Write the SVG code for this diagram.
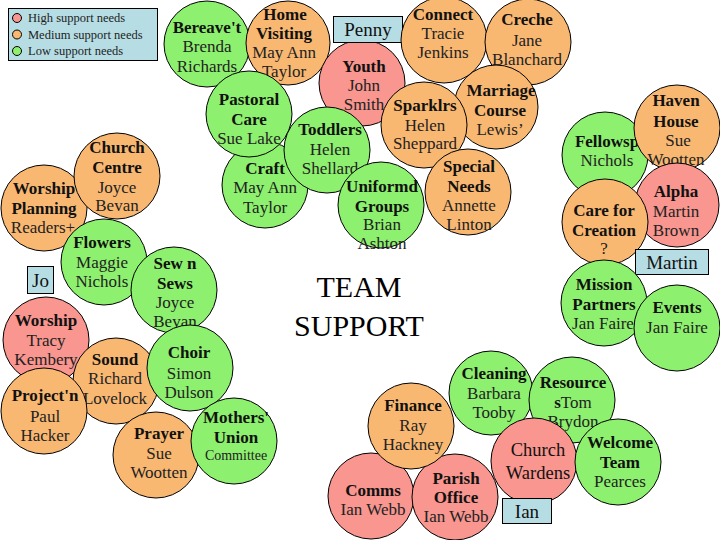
<svg xmlns="http://www.w3.org/2000/svg" width="720" height="540" viewBox="0 0 720 540">
<style>
text{font-family:"Liberation Serif","DejaVu Serif",serif;text-anchor:middle}
.h{font-size:17px;font-weight:bold;fill:#111}
.t{font-size:17px;fill:#222}
.s{font-size:14px;fill:#222}
.b{font-size:19px;fill:#111}
.lg{font-size:12.5px;fill:#222;text-anchor:start}
.g{fill:#8DF06E;stroke:#000;stroke-width:1}
.o{fill:#F9B872;stroke:#000;stroke-width:1}
.p{fill:#F8968F;stroke:#000;stroke-width:1}
.box{fill:#B7DDE4;stroke:#000;stroke-width:1}
</style>
<rect width="720" height="540" fill="#fff"/>
<g id="legend">
<rect class="box" x="8.5" y="8.5" width="149" height="52"/>
<circle class="p" cx="17" cy="18" r="4.5"/>
<circle class="o" cx="17" cy="34.5" r="4.5"/>
<circle class="g" cx="17" cy="51" r="4.5"/>
<text class="lg" x="28" y="22">High support needs</text>
<text class="lg" x="28" y="39">Medium support needs</text>
<text class="lg" x="28" y="55">Low support needs</text>
</g>
<g id="connectors"></g>
<g id="bereavement"><circle class="g" cx="207" cy="44" r="43"/><text class="h" x="207" y="33">Bereave't</text><text class="t" x="207" y="52">Brenda</text><text class="t" x="207" y="72">Richards</text></g>
<g id="home-visiting"><circle class="o" cx="288" cy="43" r="42"/><text class="h" x="285" y="20">Home</text><text class="h" x="284" y="39">Visiting</text><text class="t" x="284" y="58">May Ann</text><text class="t" x="284" y="77">Taylor</text></g>
<g id="craft"><circle class="g" cx="265" cy="185" r="43"/><text class="h" x="265" y="174">Craft</text><text class="t" x="265" y="193">May Ann</text><text class="t" x="265" y="213">Taylor</text></g>
<g id="pastoral"><circle class="g" cx="249" cy="114" r="43"/><text class="h" x="249" y="105">Pastoral</text><text class="h" x="249" y="125">Care</text><text class="t" x="249" y="144">Sue Lake</text></g>
<g id="youth"><circle class="p" cx="362" cy="83" r="43"/><text class="h" x="364" y="72">Youth</text><text class="t" x="364" y="91">John</text><text class="t" x="364" y="110">Smith</text></g>
<g id="toddlers"><circle class="g" cx="327" cy="150" r="43"/><text class="h" x="330" y="135">Toddlers</text><text class="t" x="330" y="155">Helen</text><text class="t" x="330" y="174">Shellard</text></g>
<g id="uniformed"><circle class="g" cx="381" cy="205" r="43"/><text class="h" x="382" y="192">Uniformd</text><text class="h" x="382" y="212">Groups</text><text class="t" x="382" y="230">Brian</text><text class="t" x="382" y="249">Ashton</text></g>
<g id="penny"><rect class="box" x="333.5" y="16.5" width="69" height="26"/><text class="b" x="368" y="36">Penny</text></g>
<g id="connect"><circle class="o" cx="444" cy="40" r="43"/><text class="h" x="443" y="20">Connect</text><text class="t" x="443" y="39">Tracie</text><text class="t" x="443" y="58">Jenkins</text></g>
<g id="creche"><circle class="o" cx="528" cy="42" r="43"/><text class="h" x="527" y="25">Creche</text><text class="t" x="527" y="46">Jane</text><text class="t" x="527" y="65">Blanchard</text></g>
<g id="marriage"><circle class="o" cx="496" cy="107" r="42"/><text class="h" x="501" y="96">Marriage</text><text class="h" x="500" y="116">Course</text><text class="t" x="500" y="135">Lewis’</text></g>
<g id="sparklers"><circle class="o" cx="424" cy="125" r="43"/><text class="h" x="425" y="111">Sparklrs</text><text class="t" x="425" y="131">Helen</text><text class="t" x="425" y="149">Sheppard</text></g>
<g id="special-needs"><circle class="o" cx="468" cy="192" r="43"/><text class="h" x="469" y="172">Special</text><text class="h" x="469" y="192">Needs</text><text class="t" x="469" y="211">Annette</text><text class="t" x="469" y="230">Linton</text></g>
<g id="worship-planning"><circle class="o" cx="44" cy="208" r="43"/><text class="h" x="44" y="194">Worship</text><text class="h" x="44" y="214">Planning</text><text class="t" x="43" y="233">Readers+</text></g>
<g id="church-centre"><circle class="o" cx="117" cy="176" r="43"/><text class="h" x="117" y="153">Church</text><text class="h" x="117" y="173">Centre</text><text class="t" x="117" y="193">Joyce</text><text class="t" x="117" y="211">Bevan</text></g>
<g id="flowers"><circle class="g" cx="104" cy="262" r="43"/><text class="h" x="102" y="248">Flowers</text><text class="t" x="102" y="268">Maggie</text><text class="t" x="102" y="287">Nichols</text></g>
<g id="jo"><rect class="box" x="27.5" y="266.5" width="26" height="27"/><text class="b" x="40.5" y="287">Jo</text></g>
<g id="sew-n-sews"><circle class="g" cx="174" cy="290" r="43"/><text class="h" x="175" y="269">Sew n</text><text class="h" x="175" y="289">Sews</text><text class="t" x="175" y="308">Joyce</text><text class="t" x="175" y="327">Bevan</text></g>
<g id="worship"><circle class="p" cx="46" cy="340" r="43"/><text class="h" x="46" y="326">Worship</text><text class="t" x="46" y="346">Tracy</text><text class="t" x="46" y="365">Kembery</text></g>
<g id="sound"><circle class="o" cx="116" cy="381" r="43"/><text class="h" x="115" y="365">Sound</text><text class="t" x="115" y="384">Richard</text><text class="t" x="115" y="404">Lovelock</text></g>
<g id="choir"><circle class="g" cx="190" cy="368" r="43"/><text class="h" x="189" y="358">Choir</text><text class="t" x="189" y="379">Simon</text><text class="t" x="189" y="398">Dulson</text></g>
<g id="projection"><circle class="o" cx="44" cy="411" r="43"/><text class="h" x="45" y="401">Project'n</text><text class="t" x="45" y="422">Paul</text><text class="t" x="45" y="441">Hacker</text></g>
<g id="prayer"><circle class="o" cx="156" cy="455" r="43"/><text class="h" x="159" y="439">Prayer</text><text class="t" x="159" y="459">Sue</text><text class="t" x="159" y="478">Wootten</text></g>
<g id="mothers-union"><circle class="g" cx="234" cy="441" r="43"/><text class="h" x="236" y="423">Mothers'</text><text class="h" x="236" y="443">Union</text><text class="s" x="236" y="460">Committee</text></g>
<g id="title"><text x="359" y="297" style="font-size:30px;fill:#000">TEAM</text><text x="359" y="336" style="font-size:30px;fill:#000">SUPPORT</text></g>
<g id="fellowship"><circle class="g" cx="605" cy="155" r="43"/><text class="h" x="607" y="147">Fellowsp</text><text class="t" x="607" y="166">Nichols</text></g>
<g id="haven-house"><circle class="o" cx="677" cy="128" r="43"/><text class="h" x="676" y="106">Haven</text><text class="h" x="676" y="127">House</text><text class="t" x="678" y="146">Sue</text><text class="t" x="676" y="165">Wootten</text></g>
<g id="alpha"><circle class="p" cx="677" cy="205" r="42"/><text class="h" x="676" y="197">Alpha</text><text class="t" x="676" y="217">Martin</text><text class="t" x="676" y="236">Brown</text></g>
<g id="care-for-creation"><circle class="o" cx="605" cy="222" r="43"/><text class="h" x="604" y="216">Care for</text><text class="h" x="604" y="236">Creation</text><text class="t" x="604" y="254">?</text></g>
<g id="martin"><rect class="box" x="635.5" y="249.5" width="73" height="25"/><text class="b" x="672" y="269">Martin</text></g>
<g id="mission-partners"><circle class="g" cx="604" cy="303" r="43"/><text class="h" x="604" y="290">Mission</text><text class="h" x="604" y="310">Partners</text><text class="t" x="603" y="329">Jan Faire</text></g>
<g id="events"><circle class="g" cx="677" cy="328" r="43"/><text class="h" x="677" y="313">Events</text><text class="t" x="677" y="333">Jan Faire</text></g>
<g id="cleaning"><circle class="g" cx="491" cy="393" r="42"/><text class="h" x="494" y="379">Cleaning</text><text class="t" x="494" y="399">Barbara</text><text class="t" x="494" y="418">Tooby</text></g>
<g id="resources"><circle class="g" cx="572" cy="400" r="43"/><text class="h" x="573" y="388">Resource</text><text x="573" y="408"><tspan class="h">s</tspan><tspan class="t">Tom</tspan></text><text class="t" x="573" y="427">Brydon</text></g>
<g id="comms"><circle class="p" cx="371" cy="496" r="43"/><text class="h" x="373" y="496">Comms</text><text class="t" x="373" y="515">Ian Webb</text></g>
<g id="parish-office"><circle class="p" cx="455" cy="497" r="43"/><text class="h" x="456" y="484">Parish</text><text class="h" x="456" y="503">Office</text><text class="t" x="456" y="522">Ian Webb</text></g>
<g id="finance"><circle class="o" cx="411" cy="426" r="43"/><text class="h" x="413" y="411">Finance</text><text class="t" x="413" y="431">Ray</text><text class="t" x="413" y="450">Hackney</text></g>
<g id="church-wardens"><circle class="p" cx="534" cy="461" r="43"/><text x="538" y="456" style="font-size:18.5px;fill:#111">Church</text><text x="538" y="479" style="font-size:18.5px;fill:#111">Wardens</text></g>
<g id="welcome-team"><circle class="g" cx="618" cy="462" r="43"/><text class="h" x="620" y="448">Welcome</text><text class="h" x="620" y="468">Team</text><text class="t" x="620" y="487">Pearces</text></g>
<g id="ian"><rect class="box" x="502.5" y="498.5" width="49" height="25"/><text class="b" x="527" y="518">Ian</text></g>
</svg>
